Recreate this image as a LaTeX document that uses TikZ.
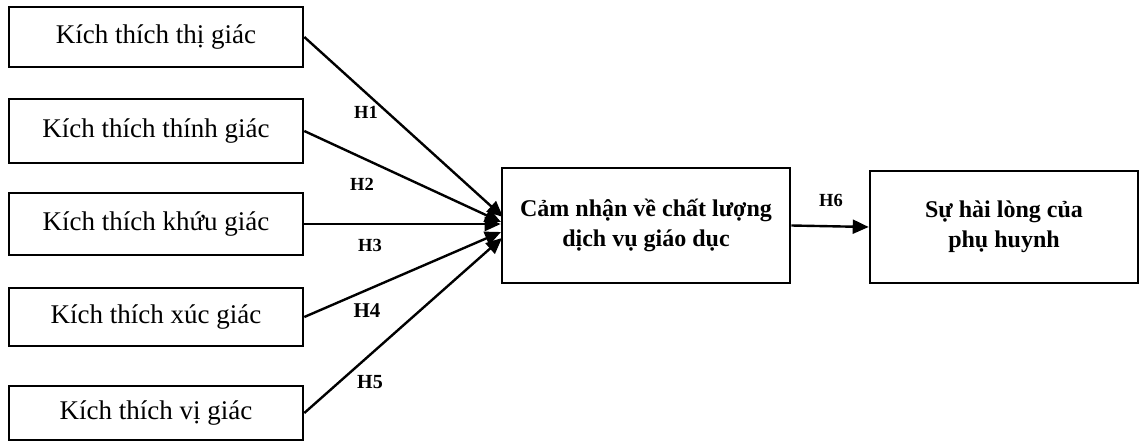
\documentclass[tikz,border=0pt]{standalone}
\usepackage{fontspec}
\setmainfont{Liberation Serif}
\usetikzlibrary{arrows.meta}
\begin{document}
\begin{tikzpicture}[x=1pt,y=-1pt,
  box/.style={draw,line width=2.6pt,inner sep=0pt,align=center,font=\fontsize{27}{31}\selectfont},
  bbox/.style={box,font=\fontsize{24}{30.5}\selectfont\bfseries},
  arr/.style={line width=2.4pt,-{Triangle[length=16pt,width=14pt]}},
  lab/.style={font=\fontsize{18.5}{22}\selectfont\bfseries,inner sep=0pt}]
\useasboundingbox (0,0) rectangle (1143,441);
\node[box,minimum width=294pt,minimum height=60pt] (a1) at (156,37) {Kích thích thị giác};
\node[box,minimum width=294pt,minimum height=64pt] (a2) at (156,131) {Kích thích thính giác};
\node[box,minimum width=294pt,minimum height=62pt] (a3) at (156,224) {Kích thích khứu giác};
\node[box,minimum width=294pt,minimum height=58pt] (a4) at (156,317) {Kích thích xúc giác};
\node[box,minimum width=294pt,minimum height=54pt] (a5) at (156,413) {Kích thích vị giác};
\node[bbox,minimum width=288pt,minimum height=115pt] (m) at (646,225.5) {Cảm nhận về chất lượng\\dịch vụ giáo dục};
\node[bbox,minimum width=268pt,minimum height=112pt] (r) at (1004,227) {Sự hài lòng của\\phụ huynh};
\coordinate (t1) at (503,217);
\coordinate (t2) at (501,222);
\coordinate (t4) at (501,232);
\coordinate (t5) at (502,238);
\draw[arr] (a1.east) -- (t1);
\draw[arr] (a2.east) -- (t2);
\draw[arr] (a3.east) -- (a3.east -| m.west);
\draw[arr] (a4.east) -- (t4);
\draw[arr] (a5.east) -- (t5);
\draw[arr] (m.east) -- (r.west);
\node[lab] (h1) at (366,112) {H1};
\node[lab] (h2) at (362,184) {H2};
\node[lab] (h3) at (370,245) {H3};
\node[lab,font=\fontsize{21}{24}\selectfont\bfseries] (h4) at (367,311) {H4};
\node[lab,font=\fontsize{20}{24}\selectfont\bfseries] (h5) at (370,382) {H5};
\node[lab] (h6) at (831,200) {H6};
\end{tikzpicture}
\end{document}
